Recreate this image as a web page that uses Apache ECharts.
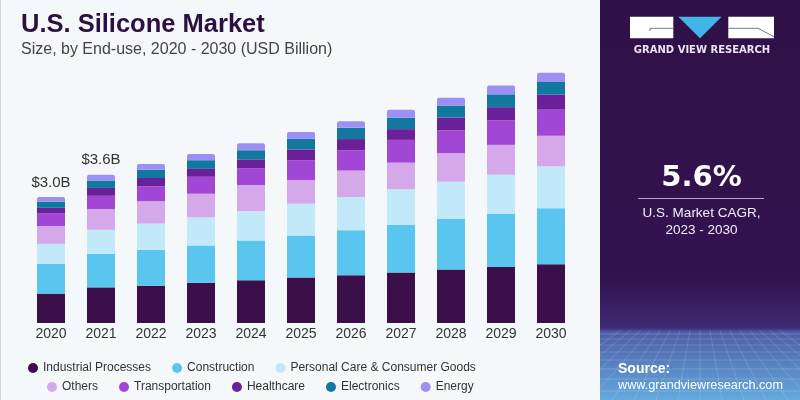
<!DOCTYPE html>
<html>
<head>
<meta charset="utf-8">
<script src="https://cdn.jsdelivr.net/npm/echarts@6/dist/echarts.min.js"></script>
<style>
html,body{margin:0;padding:0;background:#f4f8fb;}
#c{width:800px;height:400px;}
</style>
</head>
<body>
<div id="c"></div>
<script>
var years = ['2020','2021','2022','2023','2024','2025','2026','2027','2028','2029','2030'];
var industrial     = [0.71, 0.86, 0.90, 0.97, 1.03, 1.10, 1.15, 1.22, 1.29, 1.35, 1.42];
var construction   = [0.72, 0.81, 0.87, 0.90, 0.96, 1.01, 1.09, 1.15, 1.22, 1.28, 1.35];
var personalCare   = [0.48, 0.58, 0.63, 0.68, 0.71, 0.77, 0.80, 0.86, 0.90, 0.95, 1.01];
var others         = [0.43, 0.50, 0.54, 0.57, 0.63, 0.57, 0.64, 0.64, 0.69, 0.72, 0.74];
var transportation = [0.31, 0.32, 0.36, 0.41, 0.40, 0.48, 0.49, 0.55, 0.55, 0.59, 0.63];
var healthcare     = [0.13, 0.19, 0.20, 0.19, 0.22, 0.26, 0.27, 0.26, 0.31, 0.32, 0.36];
var electronics    = [0.15, 0.18, 0.20, 0.21, 0.22, 0.26, 0.27, 0.28, 0.29, 0.31, 0.31];
var energy         = [0.11, 0.14, 0.14, 0.15, 0.17, 0.16, 0.16, 0.19, 0.19, 0.21, 0.22];
var topLabels      = ['$3.0B', '$3.6B', '', '', '', '', '', '', '', '', ''];

var seriesNames = ['Industrial Processes','Construction','Personal Care & Consumer Goods','Others','Transportation','Healthcare','Electronics','Energy'];
var seriesData = [industrial, construction, personalCare, others, transportation, healthcare, electronics, energy];
var colors = ['#3b0f4a','#5ac6f0','#c2e9f9','#d5a8ea','#a246d6','#6b1f98','#13789f','#9d90f5'];

var FONT = '"Liberation Sans", Arial, sans-serif';

var series = seriesData.map(function (d, i) {
  var s = {
    name: seriesNames[i],
    type: 'bar',
    stack: 'total',
    data: d,
    barWidth: 28,
    itemStyle: { color: colors[i] },
    emphasis: { disabled: true }
  };
  if (i === seriesData.length - 1) {
    s.itemStyle.borderRadius = [2, 2, 0, 0];
    s.label = {
      show: true,
      position: 'top',
      distance: 7,
      fontFamily: FONT,
      fontSize: 15,
      color: '#333333',
      formatter: function (p) { return topLabels[p.dataIndex]; }
    };
  }
  return s;
});

// decorative perspective grid in the panel footer
var deco = [];
var hy = [334, 339, 345, 352, 360, 369, 379, 391];
hy.forEach(function (y) {
  deco.push({ type: 'line', z: 1, shape: { x1: 600, y1: y, x2: 800, y2: y }, style: { stroke: 'rgba(255,255,255,0.16)', lineWidth: 1 } });
});
for (var k = -8; k <= 8; k++) {
  var xb = 700 + k * 22;
  var xt = 700 + k * 22 * 0.45;
  deco.push({ type: 'line', z: 1, shape: { x1: xt, y1: 330, x2: xb, y2: 400 }, style: { stroke: 'rgba(255,255,255,0.14)', lineWidth: 1 } });
}

var graphics = [
  { type: 'rect', z: 0, shape: { x: 0, y: 0, width: 1, height: 400 }, style: { fill: '#cfd3d8' } },
  { type: 'rect', z: 0, shape: { x: 600, y: 0, width: 200, height: 400 },
    style: { fill: new echarts.graphic.LinearGradient(0, 0, 0, 1, [
      { offset: 0, color: '#2f1147' },
      { offset: 0.70, color: '#321350' },
      { offset: 0.82, color: '#3f2a73' },
      { offset: 0.83, color: '#4c5ea6' },
      { offset: 1, color: '#65aade' }
    ]) } },
  // logo
  { type: 'rect', z: 2, shape: { x: 630, y: 16.7, width: 43.3, height: 21.6 }, style: { fill: '#ffffff' } },
  { type: 'polyline', z: 3, shape: { points: [[650, 31], [650, 28.3], [673, 28.3]] }, style: { stroke: '#7a7a8a', lineWidth: 1, fill: null } },
  { type: 'polygon', z: 2, shape: { points: [[678.3, 16.7], [721.7, 16.7], [700, 38.3]] }, style: { fill: '#41b4e8' } },
  { type: 'rect', z: 2, shape: { x: 728.3, y: 16.7, width: 45.7, height: 21.6 }, style: { fill: '#ffffff' } },
  { type: 'polyline', z: 3, shape: { points: [[728.3, 28.3], [758, 28.3], [774, 36.7]] }, style: { stroke: '#7a7a8a', lineWidth: 1, fill: null } },
  { type: 'text', z: 3, x: 702, y: 50, style: { text: 'GRAND VIEW RESEARCH', fill: '#ebe4f2', font: 'bold 10px "DejaVu Sans", sans-serif', textAlign: 'center', textVerticalAlign: 'middle' } },
  // CAGR block
  { type: 'text', z: 3, x: 701.5, y: 178, style: { text: '5.6%', fill: '#ffffff', font: 'bold 29px "DejaVu Sans", sans-serif', textAlign: 'center', textVerticalAlign: 'middle' } },
  { type: 'line', z: 3, shape: { x1: 638, y1: 198.5, x2: 764, y2: 198.5 }, style: { stroke: '#b7a3d6', lineWidth: 1 } },
  { type: 'text', z: 3, x: 701.5, y: 213.5, style: { text: 'U.S. Market CAGR,', fill: '#f2eef7', font: '13.5px "Liberation Sans", Arial, sans-serif', textAlign: 'center', textVerticalAlign: 'middle' } },
  { type: 'text', z: 3, x: 701.5, y: 230.5, style: { text: '2023 - 2030', fill: '#f2eef7', font: '13.5px "Liberation Sans", Arial, sans-serif', textAlign: 'center', textVerticalAlign: 'middle' } },
  // source
  { type: 'text', z: 3, x: 618, y: 369.5, style: { text: 'Source:', fill: '#ffffff', font: 'bold 14px "Liberation Sans", Arial, sans-serif', textAlign: 'left', textVerticalAlign: 'middle' } },
  { type: 'text', z: 3, x: 618, y: 385, style: { text: 'www.grandviewresearch.com', fill: '#ffffff', font: '12.7px "Liberation Sans", Arial, sans-serif', textAlign: 'left', textVerticalAlign: 'middle' } },
  // titles
  { type: 'text', z: 3, x: 21, y: 25, style: { text: 'U.S. Silicone Market', fill: '#2c1040', font: 'bold 25.5px "Liberation Sans", Arial, sans-serif', textAlign: 'left', textVerticalAlign: 'middle' } },
  { type: 'text', z: 3, x: 21, y: 50, style: { text: 'Size, by End-use, 2020 - 2030 (USD Billion)', fill: '#444444', font: '16px "Liberation Sans", Arial, sans-serif', textAlign: 'left', textVerticalAlign: 'middle' } }
].concat(deco);

var legendText = { fontFamily: FONT, fontSize: 12, color: '#333333' };

var option = {
  backgroundColor: '#f4f8fb',
  animation: false,
  color: colors,
  grid: { left: 26, right: 224, top: 33, bottom: 77 },
  xAxis: {
    type: 'category',
    data: years,
    axisLine: { show: false },
    axisTick: { show: false },
    axisLabel: { margin: 4, fontFamily: FONT, fontSize: 14, color: '#333333' }
  },
  yAxis: { type: 'value', min: 0, max: 7, show: false, splitLine: { show: false } },
  legend: [
    { data: seriesNames.slice(0, 3), left: 23, top: 357, icon: 'circle', itemWidth: 10, itemHeight: 10, itemGap: 21, textStyle: legendText, selectedMode: false },
    { data: seriesNames.slice(3), left: 42, top: 376, icon: 'circle', itemWidth: 10, itemHeight: 10, itemGap: 21, textStyle: legendText, selectedMode: false }
  ],
  graphic: graphics,
  series: series
};

var chart = echarts.init(document.getElementById('c'), null, { renderer: 'canvas' });
chart.setOption(option);
</script>
</body>
</html>
